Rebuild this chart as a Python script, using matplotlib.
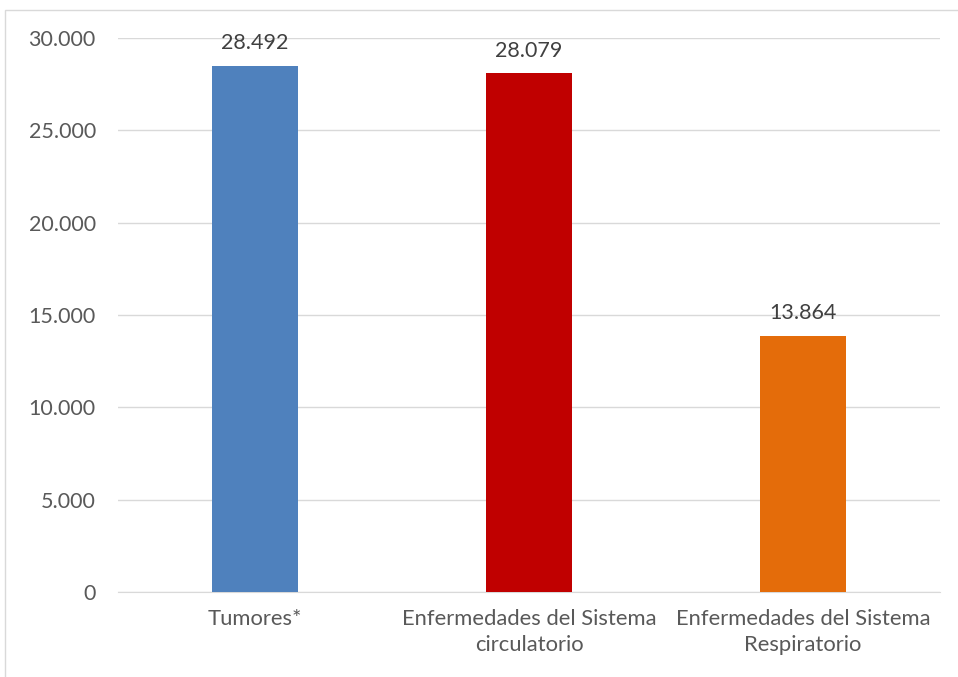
import matplotlib.pyplot as plt
from matplotlib.patches import Rectangle
from matplotlib.ticker import FuncFormatter

# Data
categorias = ['Tumores*', 'Enfermedades del Sistema\ncirculatorio',
              'Enfermedades del Sistema\nRespiratorio']
valores = [28492, 28079, 13864]
colores = ['#4F81BD', '#C00000', '#E46C0A']

plt.rcParams['font.family'] = ['Lato', 'DejaVu Sans']

fig = plt.figure(figsize=(9.58, 6.77), dpi=100)
ax = fig.add_axes([118 / 958, 1 - 592 / 677, 822 / 958, (592 - 38) / 677])

x = range(len(categorias))
ax.bar(x, valores, width=0.315, color=colores, zorder=3)

for xi, v in zip(x, valores):
    ax.text(xi, v + 700, f'{v:,}'.replace(',', '.'), ha='center', va='bottom',
            fontsize=15.5, color='#404040')

ax.set_xlim(-0.5, 2.5)
ax.set_ylim(0, 30000)
ax.set_yticks(range(0, 30001, 5000))
ax.yaxis.set_major_formatter(FuncFormatter(lambda v, p: f'{int(v):,}'.replace(',', '.')))
ax.set_xticks(list(x))
ax.set_xticklabels(categorias, fontsize=15.8, color='#595959', linespacing=1.4)
ax.tick_params(axis='y', labelsize=15.5, labelcolor='#595959', length=0, pad=16)
ax.tick_params(axis='x', length=0, pad=12)

ax.grid(axis='y', color='#D9D9D9', linewidth=1, zorder=0)
for s in ['top', 'right', 'left']:
    ax.spines[s].set_visible(False)
ax.spines['bottom'].set_color('#D9D9D9')

# outer chart frame
fig.patches.append(Rectangle((5 / 958, -0.01), 1.0, 1 - 10 / 677 + 0.01,
                             transform=fig.transFigure, fill=False,
                             edgecolor='#D9D9D9', linewidth=1))

fig.savefig('out.png', dpi=100)
